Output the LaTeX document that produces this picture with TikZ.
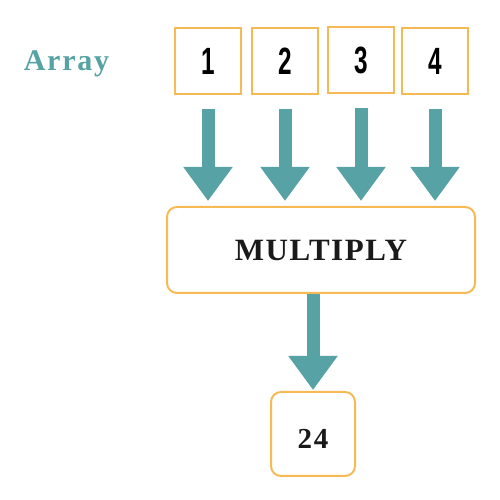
\documentclass[tikz,border=0pt]{standalone}
\usepackage{fontspec}
\usetikzlibrary{arrows.meta}
\newfontfamily\headfont{Liberation Serif}
\newfontfamily\digitfont{Liberation Sans}
\definecolor{teal}{HTML}{56A2A4}
\definecolor{boxorange}{HTML}{F6BA55}
\definecolor{ink}{HTML}{1A1A1A}
\newcommand{\celldigit}[1]{\scalebox{0.64}[1]{\digitfont\bfseries\fontsize{38}{38}\selectfont #1}}
\tikzset{
  cell/.style={draw=boxorange, line width=2pt, minimum width=66pt, minimum height=66pt, inner sep=0pt, text=black},
  roundbox/.style={draw=boxorange, line width=2pt, rounded corners=10pt, inner sep=0pt, text=ink},
  bigarrow/.style={draw=teal, line width=13pt, -{Triangle[width=47pt,length=34pt]}},
}
\begin{document}
\begin{tikzpicture}[x=1pt,y=1pt]
\useasboundingbox (0,0) rectangle (500,500);
\node[text=teal, font=\headfont\bfseries\fontsize{30}{30}\selectfont\addfontfeatures{LetterSpace=6}] (arr) at (66.5,436) {Array};
\node[cell] (b1) at (208,439) {\celldigit{1}};
\node[cell] (b2) at (285,439) {\celldigit{2}};
\node[cell] (b3) at (361,440) {\celldigit{3}};
\node[cell] (b4) at (435,439) {\celldigit{4}};
\node[roundbox, minimum width=308pt, minimum height=86pt, font=\headfont\bfseries\fontsize{31}{31}\selectfont\addfontfeatures{LetterSpace=5}] (m) at (321,250) {MULTIPLY};
\node[roundbox, minimum width=84pt, minimum height=84pt, text height=30pt, text depth=0pt, font=\headfont\bfseries\fontsize{29}{29}\selectfont\addfontfeatures{LetterSpace=6}] (r) at (313,66) {24};
\foreach \b in {b1,b2,b3,b4}{
  \draw[bigarrow, shorten <=14pt, shorten >=5pt] (\b.south) -- (\b.south |- m.north);
}
\draw[bigarrow, shorten >=1pt] (r.north |- m.south) -- (r.north);
\end{tikzpicture}
\end{document}
